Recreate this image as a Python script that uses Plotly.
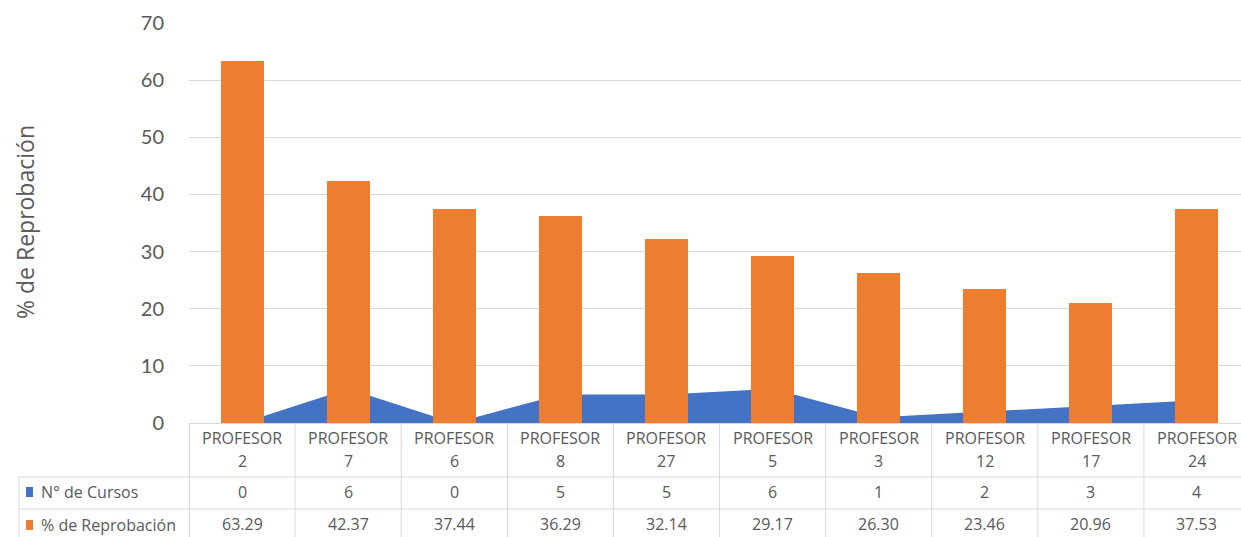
import plotly.graph_objects as go

# ---- data ----
profesores = ["PROFESOR 2", "PROFESOR 7", "PROFESOR 6", "PROFESOR 8", "PROFESOR 27",
              "PROFESOR 5", "PROFESOR 3", "PROFESOR 12", "PROFESOR 17", "PROFESOR 24"]
prof_ids = ["2", "7", "6", "8", "27", "5", "3", "12", "17", "24"]
n_cursos = [0, 6, 0, 5, 5, 6, 1, 2, 3, 4]
reprobacion = [63.29, 42.37, 37.44, 36.29, 32.14, 29.17, 26.30, 23.46, 20.96, 37.53]
y_ticks = [0, 10, 20, 30, 40, 50, 60, 70]

# ---- layout constants ----
W, H = 1241, 537
M_L, M_R, M_T, M_B = 189, 0, 23, 114
PLOT_W = W - M_L - M_R
PLOT_H = H - M_T - M_B
CAT_W = 106.1  # pixels per category
X_MAX = PLOT_W / CAT_W - 0.5

BLUE = "#4472C4"
ORANGE = "#ED7D31"
TXT = "#595959"
GRID = "#D9D9D9"
FONT = "'Open Sans', sans-serif"
TICK_FONT = "Lato, sans-serif"


def px(p):
    """pixel x -> paper x"""
    return (p - M_L) / PLOT_W


def py(p):
    """pixel y -> paper y"""
    return (H - M_B - p) / PLOT_H


fig = go.Figure()

# area series on the base axes
fig.add_trace(go.Scatter(
    x=profesores, y=n_cursos, name="N° de Cursos",
    mode="lines", line=dict(width=0, color=BLUE),
    fill="tozeroy", fillcolor=BLUE, showlegend=False,
    xaxis="x", yaxis="y",
))
# bars on overlaid axes so they are painted above the area
fig.add_trace(go.Bar(
    x=profesores, y=reprobacion, name="% de Reprobación",
    marker=dict(color=ORANGE, line=dict(width=0)),
    width=0.405, showlegend=False,
    xaxis="x2", yaxis="y2",
))

shapes = []
annotations = []
cell_font = dict(size=16, color=TXT, family=FONT)

# data table: horizontal rules
for yp in [477, 509]:
    shapes.append(dict(type="line", xref="paper", yref="paper",
                       x0=px(19), x1=1, y0=py(yp), y1=py(yp),
                       line=dict(color=GRID, width=1)))
# left borders
shapes.append(dict(type="line", xref="paper", yref="paper",
                   x0=px(19), x1=px(19), y0=py(477), y1=py(H),
                   line=dict(color=GRID, width=1)))
shapes.append(dict(type="line", xref="paper", yref="paper",
                   x0=px(189.5), x1=px(189.5), y0=py(423), y1=py(H),
                   line=dict(color=GRID, width=1)))
# column separators between categories
for i in range(1, len(profesores)):
    shapes.append(dict(type="line", xref="x", yref="paper",
                       x0=i - 0.5, x1=i - 0.5, y0=0, y1=py(H),
                       line=dict(color=GRID, width=1)))

# header and value cells
for name, pid, c, r in zip(profesores, prof_ids, n_cursos, reprobacion):
    for text, yc in [("PROFESOR", 438), (pid, 461), (str(c), 492), (f"{r:.2f}", 524)]:
        annotations.append(dict(x=name, y=py(yc), xref="x", yref="paper", text=text,
                                xanchor="center", yanchor="middle",
                                showarrow=False, font=cell_font))

# legend keys in the table
for name, color, yc in [("N° de Cursos", BLUE, 492), ("% de Reprobación", ORANGE, 525)]:
    shapes.append(dict(type="rect", xref="paper", yref="paper",
                       x0=px(26), x1=px(33), y0=py(yc - 5), y1=py(yc + 5),
                       fillcolor=color, line=dict(width=0)))
    annotations.append(dict(x=px(39), y=py(yc), xref="paper", yref="paper", text=name,
                            xanchor="left", yanchor="middle", showarrow=False,
                            font=cell_font))

# y-axis title
annotations.append(dict(x=px(25), y=py(222), xref="paper", yref="paper",
                        text="% de Reprobación", textangle=-90, showarrow=False,
                        xanchor="center", yanchor="middle",
                        font=dict(size=23, color=TXT, family=FONT)))

fig.update_layout(
    width=W, height=H,
    margin=dict(l=M_L, r=M_R, t=M_T, b=M_B),
    paper_bgcolor="white", plot_bgcolor="white",
    shapes=shapes, annotations=annotations,
    xaxis=dict(type="category", range=[-0.5, X_MAX], showticklabels=False,
               showgrid=False, zeroline=False, showline=True,
               linecolor=GRID, linewidth=1, ticks=""),
    yaxis=dict(range=[0, 70], tickvals=y_ticks, showgrid=True, gridcolor=GRID,
               gridwidth=1, zeroline=False, showline=False,
               ticks="outside", ticklen=20, tickcolor="rgba(0,0,0,0)",
               tickfont=dict(size=20, color=TXT, family=TICK_FONT)),
    xaxis2=dict(type="category", overlaying="x", anchor="y2", range=[-0.5, X_MAX],
                visible=False),
    yaxis2=dict(overlaying="y", anchor="x2", range=[0, 70], visible=False),
    bargap=0,
)

fig.write_html("out.html")
